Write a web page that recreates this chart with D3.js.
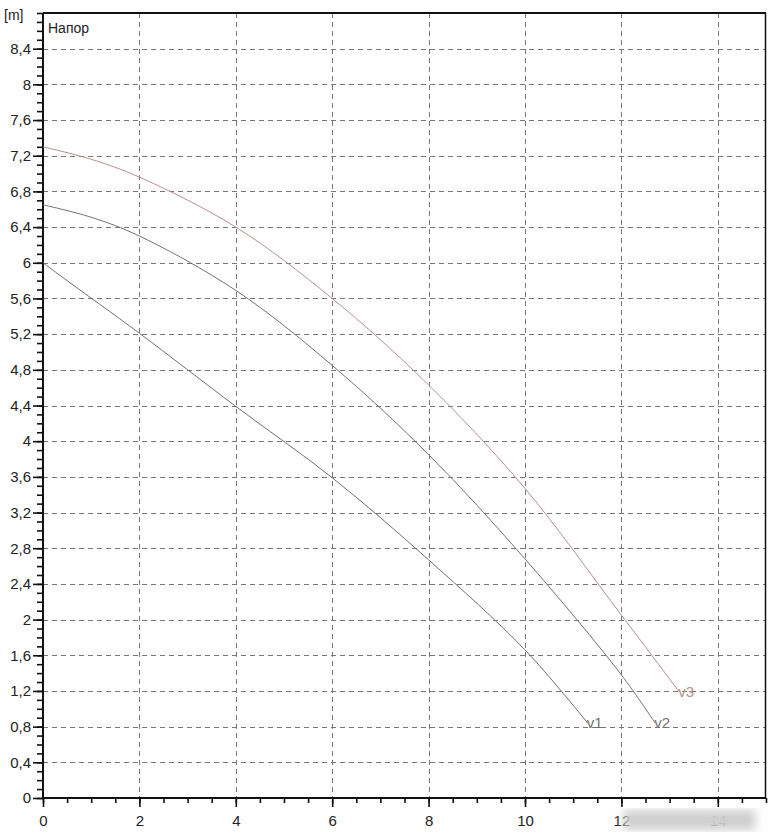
<!DOCTYPE html>
<html>
<head>
<meta charset="utf-8">
<script src="https://cdn.jsdelivr.net/npm/d3@7"></script>
<style>
  body { margin: 0; background: #fff; }
  svg { display: block; font-family: "Liberation Sans", Arial, sans-serif; }
</style>
</head>
<body>
<div id="chart"></div>
<script>
// flow (x) vs head (m)
const v1 = [[0, 6.0], [0.5, 5.8], [2, 5.21], [4, 4.39], [6, 3.59], [8, 2.67], [10, 1.66], [11.3, 0.84]]
const v2 = [[0, 6.65], [1, 6.51], [2, 6.3], [4, 5.69], [6, 4.85], [8, 3.85], [10, 2.68], [12, 1.38], [12.7, 0.84]]
const v3 = [[0, 7.3], [1, 7.16], [2, 6.96], [4, 6.4], [6, 5.6], [8, 4.63], [10, 3.47], [12, 2.05], [13.2, 1.19]]
const seriesNames = ['v1', 'v2', 'v3']
const xTickValues = [0, 2, 4, 6, 8, 10, 12, 14]
const yLabel = '[m]'
const plotTitle = 'Напор'

const width = 768
const height = 836
const margin = { left: 43, top: 13, right: 2, bottom: 38 }

const svg = d3.select('#chart')
  .append('svg')
  .attr('width', width)
  .attr('height', height)

const x = d3.scaleLinear().domain([0, 15]).range([margin.left, width - margin.right])
const y = d3.scaleLinear().domain([0, 8.8]).range([height - margin.bottom, margin.top])

const fmt = d => d3.format('.1~f')(d).replace('.', ',')
const yMajor = d3.range(0, 8.41, 0.4).map(d => +d.toFixed(1))
const yMinor = d3.range(0, 8.81, 0.1).map(d => +d.toFixed(1))
const xMinor = d3.range(0, 15.01, 0.5)

// grid
const grid = svg.append('g')
  .attr('stroke', '#777')
  .attr('stroke-width', 1)
  .attr('stroke-dasharray', '5,4')
grid.selectAll('.gx').data(xTickValues.filter(d => d > 0)).enter().append('line')
  .attr('x1', d => Math.round(x(d)) + 0.5).attr('x2', d => Math.round(x(d)) + 0.5)
  .attr('y1', y(8.8)).attr('y2', y(0))
grid.selectAll('.gy').data(yMajor.filter(d => d > 0)).enter().append('line')
  .attr('y1', d => Math.round(y(d)) + 0.5).attr('y2', d => Math.round(y(d)) + 0.5)
  .attr('x1', x(0)).attr('x2', x(15))

// frame top + right
svg.append('line').attr('x1', x(0)).attr('x2', x(15)).attr('y1', y(8.8)).attr('y2', y(8.8))
  .attr('stroke', '#111').attr('stroke-width', 2)
svg.append('line').attr('x1', x(15) - 0.5).attr('x2', x(15) - 0.5).attr('y1', y(8.8)).attr('y2', y(0))
  .attr('stroke', '#111').attr('stroke-width', 1.5)

// left axis
const yAxisMinor = d3.axisLeft(y).tickValues(yMinor).tickSize(6).tickFormat('')
svg.append('g').attr('transform', `translate(${x(0)},0)`).call(yAxisMinor)
  .call(g => g.select('.domain').remove())
const yAxis = d3.axisLeft(y).tickValues(yMajor).tickSize(10).tickPadding(2).tickFormat(fmt)
svg.append('g').attr('transform', `translate(${x(0)},0)`).call(yAxis)
  .call(g => g.select('.domain').remove())
  .call(g => g.selectAll('text').attr('font-size', 15).attr('fill', '#222').attr('font-family', '"Liberation Sans", Arial, sans-serif'))

// bottom axis
const xAxisMinor = d3.axisBottom(x).tickValues(xMinor).tickSize(5).tickFormat('')
svg.append('g').attr('transform', `translate(0,${y(0)})`).call(xAxisMinor)
  .call(g => g.select('.domain').remove())
const xAxis = d3.axisBottom(x).tickValues(xTickValues).tickSize(9).tickPadding(8).tickFormat(d => d)
svg.append('g').attr('transform', `translate(0,${y(0)})`).call(xAxis)
  .call(g => g.select('.domain').remove())
  .call(g => g.selectAll('text').attr('font-size', 15).attr('fill', '#222').attr('font-family', '"Liberation Sans", Arial, sans-serif'))

svg.selectAll('.tick line').attr('stroke', '#111').attr('stroke-width', 1.6)

svg.append('line').attr('x1', x(0)).attr('x2', x(0)).attr('y1', y(8.8)).attr('y2', y(0))
  .attr('stroke', '#111').attr('stroke-width', 2)
svg.append('line').attr('x1', x(0)).attr('x2', x(15)).attr('y1', y(0)).attr('y2', y(0))
  .attr('stroke', '#111').attr('stroke-width', 2)

// labels
svg.append('text').attr('x', 4).attr('y', 20).attr('font-size', 14).attr('fill', '#222').text(yLabel)
svg.append('text').attr('x', x(0) + 5).attr('y', 33).attr('font-size', 14).attr('fill', '#222').text(plotTitle)

// curves
const colors = ['#707070', '#7d6e6e', '#b8908e']
const line = d3.line().x(d => x(d[0])).y(d => y(d[1])).curve(d3.curveCatmullRom.alpha(0.5))
const curves = [v1, v2, v3]
curves.forEach((data, i) => {
  svg.append('path').datum(data)
    .attr('fill', 'none')
    .attr('stroke', colors[i])
    .attr('stroke-width', 1)
    .attr('d', line)
  const last = data[data.length - 1]
  svg.append('text')
    .attr('x', x(last[0]) - 1)
    .attr('y', y(last[1]) + 5)
    .attr('font-size', 15)
    .attr('fill', colors[i])
    .text(seriesNames[i])
})

// blurred watermark patch over bottom-right labels
const defs = svg.append('defs')
defs.append('filter').attr('id', 'blur').append('feGaussianBlur').attr('stdDeviation', 5)
svg.append('rect')
  .attr('x', x(12) + 2).attr('y', y(0) + 12)
  .attr('width', 132).attr('height', 20)
  .attr('fill', '#cfcfcf')
  .attr('filter', 'url(#blur)')
</script>
</body>
</html>
